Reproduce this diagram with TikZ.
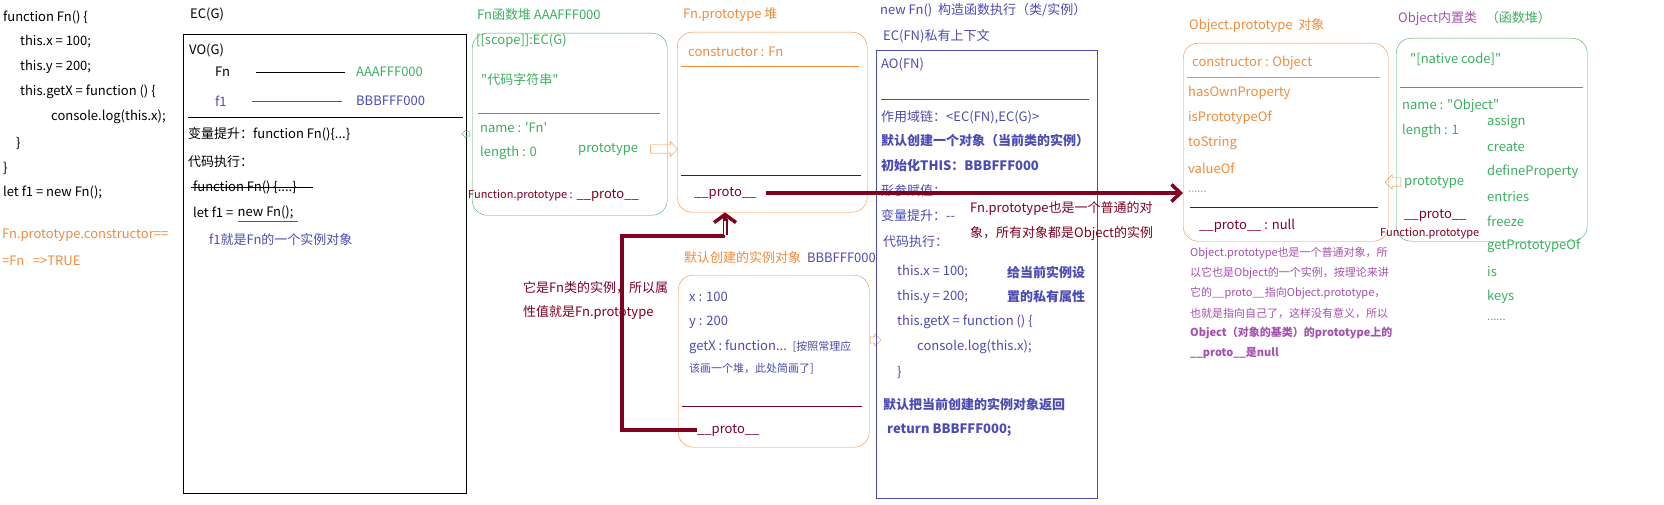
\documentclass[tikz,border=0pt]{standalone}
\usepackage{fontspec}
\setmainfont{Noto Sans CJK SC}[Ligatures=TeXOff]
\usepackage{xcolor}
\usepackage{tikz}
\usetikzlibrary{arrows.meta,positioning,shapes.arrows}

\definecolor{jsgreen}{RGB}{60,175,95}
\definecolor{jsorange}{RGB}{240,140,60}
\definecolor{jsblue}{RGB}{75,75,180}
\definecolor{jsred}{RGB}{128,0,32}
\definecolor{jspurple}{RGB}{165,80,175}

\begin{document}
\begin{tikzpicture}[x=1pt, y=-1pt,
  txt/.style={anchor=west, inner sep=0pt, font=\fontsize{13}{16}\selectfont},
  note/.style={txt, font=\fontsize{11}{14}\selectfont},
  frame/.style={draw, anchor=north west, inner sep=0pt},
  heap/.style={frame, rounded corners=15pt},
  protoline/.style={color=jsred, line width=3.5pt},
  hollow/.style={single arrow, draw=jsorange, inner xsep=0pt, inner ysep=4pt, single arrow head extend=3pt}]
  \useasboundingbox[fill=white] (0,0) rectangle (1664,505);

  % source code
  \node[txt] (c1) at (3,17) {function Fn() \{};
  \node[txt] (c2) at (20,42) {this.x = 100;};
  \node[txt] (c3) at (20,67) {this.y = 200;};
  \node[txt] (c4) at (20,92) {this.getX = function () \{};
  \node[txt] (c5) at (51,117) {console.log(this.x);};
  \node[txt] (c6) at (16,143) {\}};
  \node[txt] (c7) at (3,168) {\}};
  \node[txt] (c8) at (3,192) {let f1 = new Fn();};
  \node[txt, jsorange] (eq1) at (2,235) {Fn.prototype.constructor==};
  \node[txt, jsorange] (eq2) at (2,261) {=Fn\ \ \ =>TRUE};

  % EC(G)
  \node[txt] (ecgt) at (190,14) {EC(G)};
  \node[frame, minimum width=283pt, minimum height=459pt] (ecg) at (183,34) {};
  \node[txt] (vog) at (189,50) {VO(G)};
  \node[txt] (vfn) at (215,72) {Fn};
  \node[txt, jsgreen] (vfnaddr) at (356,72) {AAAFFF000};
  \node[txt, jsblue] (vf1) at (215,101) {f1};
  \node[txt, jsblue] (vf1addr) at (356,101) {BBBFFF000};
  \draw ([xshift=26pt]vfn.east) -- ([xshift=-11pt]vfnaddr.west);
  \draw[jsblue] ([xshift=25pt]vf1.east) -- ([xshift=-14pt]vf1addr.west);
  \draw (188,117) -- (463,117);
  \node[txt] (hoist) at (188,134) {变量提升：function Fn()\{...\}};
  \node[txt] (exec) at (188,162) {代码执行：};
  \node[txt] (oldfn) at (193,187) {function Fn() \{....\}};
  \draw ([xshift=-2pt]oldfn.west) -- ([xshift=16pt]oldfn.east);
  \node[txt] (letf1) at (193,212) {let f1 =};
  \node[txt, right=4pt of letf1] (gnew) {new Fn();};
  \draw[jsblue] ([yshift=-2pt]gnew.south west) -- ([yshift=-2pt, xshift=4pt]gnew.south east);
  \node[txt, jsblue] (f1inst) at (209,240) {f1就是Fn的一个实例对象};
  \node[hollow, draw=jsgreen, inner ysep=2pt, single arrow head extend=2pt, minimum height=8pt, shape border rotate=180] (ecgmark) at (467,134) {};

  % Fn heap
  \node[txt, jsgreen] (fnheapt) at (477,15) {Fn函数堆 AAAFFF000};
  \node[heap, jsgreen, minimum width=195pt, minimum height=182pt] (fnheap) at (472,33) {};
  \node[txt, jsgreen] (scope) at (476,41) {[[scope]]:EC(G)};
  \node[txt, jsgreen] (codestr) at (481,80) {"代码字符串"};
  \draw[jsgreen] (478,113) -- (660,113);
  \node[txt, jsgreen] (fnname) at (480,128) {name : 'Fn'};
  \node[txt, jsgreen] (fnlen) at (480,153) {length : 0};
  \node[txt, jsgreen] (fnprot) at (578,149) {prototype};
  \node[hollow, minimum height=27pt] (toproto) at (662,149) {};
  \node[txt, jsred] (fnfp) at (468,195) {{\fontsize{11}{14}\selectfont Function.prototype :} \_\_proto\_\_};

  % Fn.prototype
  \node[txt, jsorange] (fnprotot) at (683,15) {Fn.prototype 堆};
  \node[heap, jsorange, minimum width=190pt, minimum height=180pt] (fnproto) at (677,32) {};
  \node[txt, jsorange] (ctorfn) at (688,52) {constructor : Fn};
  \draw[jsorange] (681,66) -- (859,66);
  \draw[jsred] (681,175) -- (861,175);
  \node[txt, jsred] (fpproto) at (694,193) {\_\_proto\_\_};

  % instance
  \node[txt] (instt) at (684,258) {\textcolor{jsorange}{默认创建的实例对象}\ \ \textcolor{jsblue}{BBBFFF000}};
  \node[heap, jsorange, minimum width=191pt, minimum height=172pt] (inst) at (678,275) {};
  \node[txt, jsblue] (ix) at (689,297) {x : 100};
  \node[txt, jsblue] (iy) at (689,322) {y : 200};
  \node[txt, jsblue] (igetx) at (689,347) {getX : function...\ \ {\fontsize{11}{14}\selectfont [按照常理应}};
  \node[note, jsblue] (igetx2) at (689,369) {该画一个堆，此处简画了]};
  \draw[jsred] (682,406) -- (862,406);
  \node[txt, jsred] (iproto) at (697,430) {\_\_proto\_\_};
  \node[hollow, inner ysep=3pt, minimum height=11pt] (toecfn) at (874,340) {};
  \node[txt, jsred] (isfn1) at (523,288) {它是Fn类的实例，所以属};
  \node[txt, jsred] (isfn2) at (523,313) {性值就是Fn.prototype};

  % EC(FN)
  \node[txt, jsblue] (fnexec) at (880,10) {new Fn()\ \ 构造函数执行（类/实例）};
  \node[txt, jsblue] (ecfnt) at (883,36) {EC(FN)私有上下文};
  \node[frame, jsblue, minimum width=221pt, minimum height=448pt] (ecfn) at (876,50) {};
  \node[txt, jsblue] (aofn) at (881,64) {AO(FN)};
  \draw[jsblue] (881,99) -- (1089,99);
  \node[txt, jsblue] (chain) at (881,117) {作用域链：<EC(FN),EC(G)>};
  \node[txt, jsblue] (mkobj) at (881,141) {\bfseries 默认创建一个对象（当前类的实例）};
  \node[txt, jsblue] (initthis) at (881,166) {\bfseries 初始化THIS：BBBFFF000};
  \node[txt, jsblue] (params) at (881,191) {形参赋值：};
  \node[txt, jsblue] (hoistfn) at (881,216) {变量提升：--};
  \node[txt, jsblue] (execfn) at (883,242) {代码执行：};
  \node[txt, jsblue] (tx) at (897,272) {this.x = 100;};
  \node[txt, jsblue] (ty) at (897,297) {this.y = 200;};
  \node[txt, jsblue] (tget) at (897,322) {this.getX = function () \{};
  \node[txt, jsblue] (tlog) at (917,347) {console.log(this.x);};
  \node[txt, jsblue] (tend) at (897,372) {\}};
  \node[txt, jsblue] (set1) at (1007,272) {\bfseries 给当前实例设};
  \node[txt, jsblue] (set2) at (1007,297) {\bfseries 置的私有属性};
  \node[txt, jsblue] (ret1) at (883,405) {\bfseries 默认把当前创建的实例对象返回};
  \node[txt, jsblue] (ret2) at (887,430) {\bfseries return BBBFFF000;};
  \node[txt, jsred] (plain1) at (970,209) {Fn.prototype也是一个普通的对};
  \node[txt, jsred] (plain2) at (970,234) {象，所有对象都是Object的实例};

  % Object.prototype
  \node[txt, jsorange] (optitle) at (1189,26) {Object.prototype\ \ 对象};
  \node[heap, jsorange, minimum width=205pt, minimum height=198pt] (objproto) at (1183,43) {};
  \node[txt, jsorange] (opctor) at (1192,63) {constructor : Object};
  \draw[jsorange] (1187,77) -- (1380,77);
  \node[txt, jsorange] (has) at (1188,93) {hasOwnProperty};
  \node[txt, jsorange] (isp) at (1188,118) {isPrototypeOf};
  \node[txt, jsorange] (tos) at (1188,143) {toString};
  \node[txt, jsorange] (valof) at (1188,168) {valueOf};
  \node[note, jsorange] (opmore) at (1188,192) {......};
  \draw[jsred] (1190,207) -- (1378,207);
  \node[txt, jsred] (opnull) at (1199,226) {\_\_proto\_\_ : null};
  \node[note, jspurple] (opn1) at (1190,253) {Object.prototype也是一个普通对象，所};
  \node[note, jspurple] (opn2) at (1190,273) {以它也是Object的一个实例，按理论来讲};
  \node[note, jspurple] (opn3) at (1190,293) {它的\_\_proto\_\_指向Object.prototype，};
  \node[note, jspurple] (opn4) at (1190,313) {也就是指向自己了，这样没有意义，所以};
  \node[note, jspurple] (opn5) at (1190,333) {\bfseries Object（对象的基类）的prototype上的};
  \node[note, jspurple] (opn6) at (1190,353) {\bfseries \_\_proto\_\_是null};

  % Object
  \node[txt] (oftitle) at (1398,19) {\textcolor{jspurple}{Object内置类}\ \ \ \textcolor{jsgreen}{（函数堆）}};
  \node[heap, jsgreen, minimum width=191pt, minimum height=203pt] (objfn) at (1396,38) {};
  \node[txt, jsgreen] (native) at (1410,59) {"[native code]"};
  \draw[jsgreen] (1400,87) -- (1583,87);
  \node[txt, jsgreen] (ofname) at (1402,106) {name : "Object"};
  \node[txt, jsgreen] (oflen) at (1402,131) {length : 1};
  \node[txt, jsgreen] (ofprot) at (1404,182) {prototype};
  \node[hollow, minimum height=16pt, shape border rotate=180] (toobjproto) at (1395,182) {};
  \node[txt, jsred] (ofproto) at (1404,215) {\_\_proto\_\_};
  \node[note, jsred] (offp) at (1380,234) {Function.prototype};
  \node[txt, jsgreen] (sassign) at (1487,122) {assign};
  \node[txt, jsgreen] (screate) at (1487,147) {create};
  \node[txt, jsgreen] (sdefine) at (1487,172) {defineProperty};
  \node[txt, jsgreen] (sentries) at (1487,197) {entries};
  \node[txt, jsgreen] (sfreeze) at (1487,221) {freeze};
  \node[txt, jsgreen] (sgetproto) at (1487,246) {getPrototypeOf};
  \node[txt, jsgreen] (sis) at (1487,272) {is};
  \node[txt, jsgreen] (skeys) at (1487,297) {keys};
  \node[note, jsgreen] (smore) at (1487,320) {......};

  % __proto__ links
  \coordinate (fpout) at (766,193);
  \draw[protoline, -{Straight Barb[length=9pt, width=17pt]}] (fpout) -- (fpout -| objproto.west);
  \coordinate (bend) at (622,236);
  \coordinate (rise) at (725,236);
  \draw[protoline] (iproto.west) -| (bend) -- (rise);
  \draw[jsred, line width=1.5pt, double=white, double distance=2pt] ([yshift=1.5pt]rise) -- ([yshift=-7pt]rise |- fnproto.south);
  \draw[jsred, line width=3.5pt, -{Straight Barb[length=8pt, width=22pt]}] ([yshift=-9pt]rise |- fnproto.south) -- (rise |- fnproto.south);
\end{tikzpicture}
\end{document}
